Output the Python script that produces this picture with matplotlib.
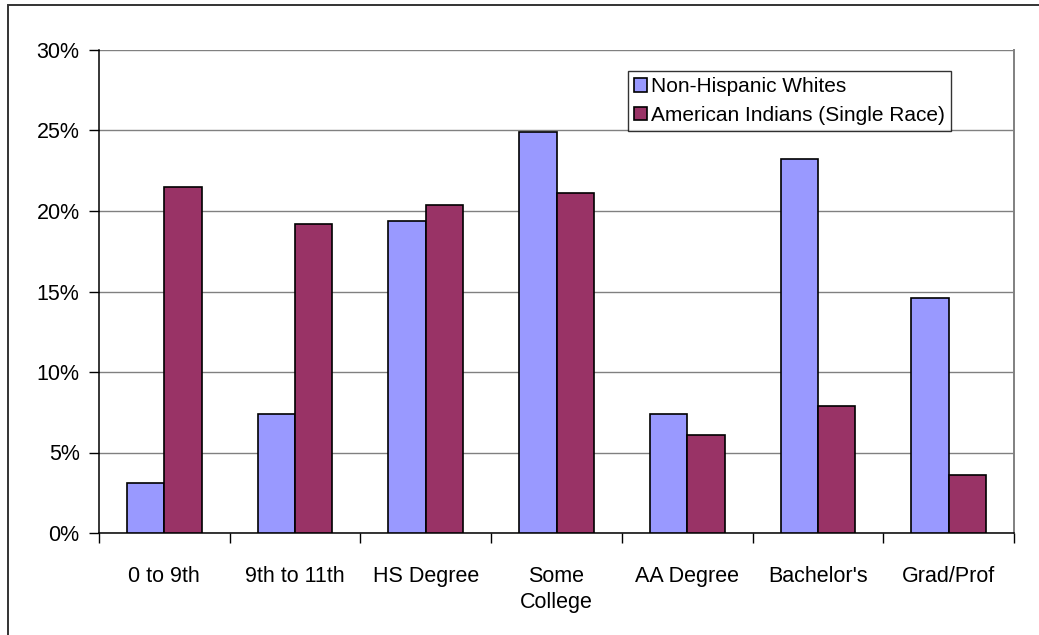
import matplotlib.pyplot as plt
import numpy as np
from matplotlib.patches import Rectangle
from matplotlib.ticker import FixedLocator, PercentFormatter

categories = ["0 to 9th", "9th to 11th", "HS Degree", "Some\nCollege",
              "AA Degree", "Bachelor's", "Grad/Prof"]
whites = [3.1, 7.4, 19.4, 24.9, 7.4, 23.2, 14.6]
indians = [21.5, 19.2, 20.4, 21.1, 6.1, 7.9, 3.6]
series_names = ["Non-Hispanic Whites", "American Indians (Single Race)"]

plt.rcParams['font.family'] = ['Liberation Sans', 'DejaVu Sans']
plt.rcParams['font.size'] = 15.5

fig = plt.figure(figsize=(10.39, 6.35), dpi=100)
ax = fig.add_axes([99 / 1039, 102 / 635, 915 / 1039, 483 / 635])

# outer chart frame, only top and left edges are visible in the crop
fig.patches.append(Rectangle((8 / 1039, -0.1), 2, (630 / 635) + 0.1,
                             transform=fig.transFigure, fill=False,
                             edgecolor='#333333', linewidth=1.4))

x = np.arange(len(categories))
w = 0.286
ax.bar(x - w / 2, whites, w, color='#9999FF', edgecolor='black',
       linewidth=1.2, label=series_names[0], zorder=3)
ax.bar(x + w / 2, indians, w, color='#993366', edgecolor='black',
       linewidth=1.2, label=series_names[1], zorder=3)

ax.set_xlim(-0.5, len(categories) - 0.5)
ax.set_ylim(0, 30)
ax.set_yticks(np.arange(0, 31, 5))
ax.yaxis.set_major_formatter(PercentFormatter(decimals=0))
ax.yaxis.grid(True, color='#808080', linewidth=1.0, zorder=0)

ax.set_xticks(x)
ax.set_xticklabels(categories, linespacing=1.3)
ax.xaxis.set_minor_locator(FixedLocator(np.arange(-0.5, len(categories), 1)))
ax.tick_params(axis='x', which='major', length=0, pad=24)
ax.tick_params(axis='x', which='minor', length=7, width=1, color='black',
               direction='out')
ax.tick_params(axis='y', length=7, width=1, direction='out', pad=7)

for s in ['left', 'bottom']:
    ax.spines[s].set_color('black')
    ax.spines[s].set_linewidth(1.1)
ax.spines['top'].set_visible(False)
ax.spines['right'].set_color('#808080')
ax.spines['right'].set_linewidth(1.4)

leg = ax.legend(loc='upper left', bbox_to_anchor=(529 / 915, 462 / 483),
                frameon=True, fancybox=False, edgecolor='black',
                fontsize=15, borderpad=0.3, handlelength=0.6,
                handleheight=0.6, handletextpad=0.2, labelspacing=0.45,
                borderaxespad=0)
leg.get_frame().set_linewidth(1.0)

fig.savefig("out.png", dpi=100)
